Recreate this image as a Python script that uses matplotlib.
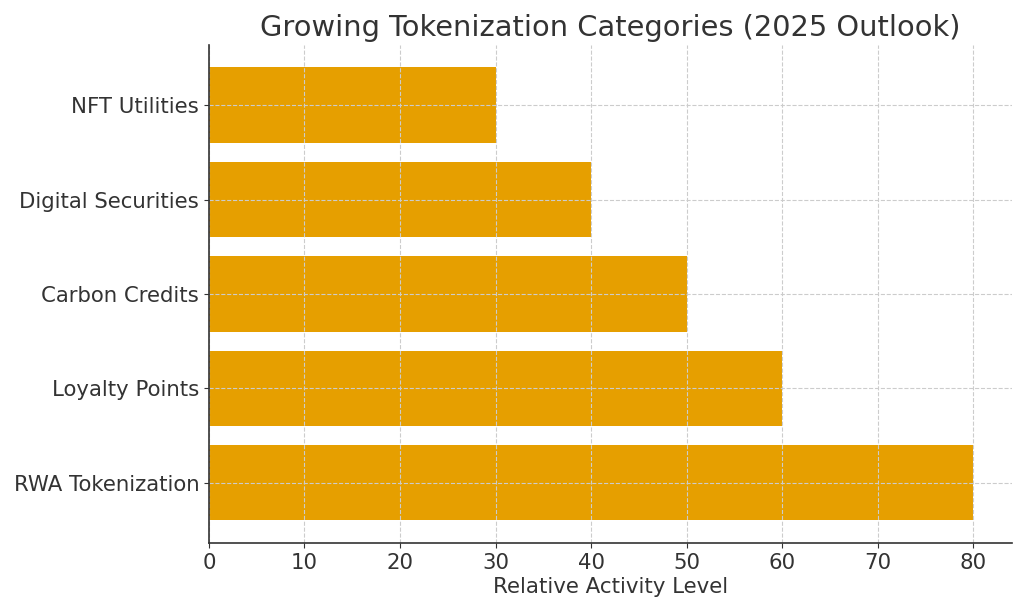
import matplotlib.pyplot as plt

# Данные
categories = ['RWA Tokenization', 'Loyalty Points', 'Carbon Credits',
              'Digital Securities', 'NFT Utilities']
values = [80, 60, 50, 40, 30]

text_color = '#333333'

fig, ax = plt.subplots(figsize=(10.24, 6.13), dpi=100)
fig.subplots_adjust(left=0.204, right=0.988, bottom=0.114, top=0.927)

ax.barh(categories, values, color='#E69F00', height=0.8)

ax.set_title('Growing Tokenization Categories (2025 Outlook)',
             fontsize=20.8, color=text_color, pad=6)
ax.set_xlabel('Relative Activity Level', fontsize=15.4, color=text_color, labelpad=3)
ax.tick_params(labelsize=15.3, colors=text_color)
ax.grid(True, linestyle='--', color='#cccccc', linewidth=0.8)

for side in ['top', 'right']:
    ax.spines[side].set_visible(False)
for side in ['left', 'bottom']:
    ax.spines[side].set_color(text_color)
    ax.spines[side].set_linewidth(1.2)

plt.savefig('out.png', dpi=100)
